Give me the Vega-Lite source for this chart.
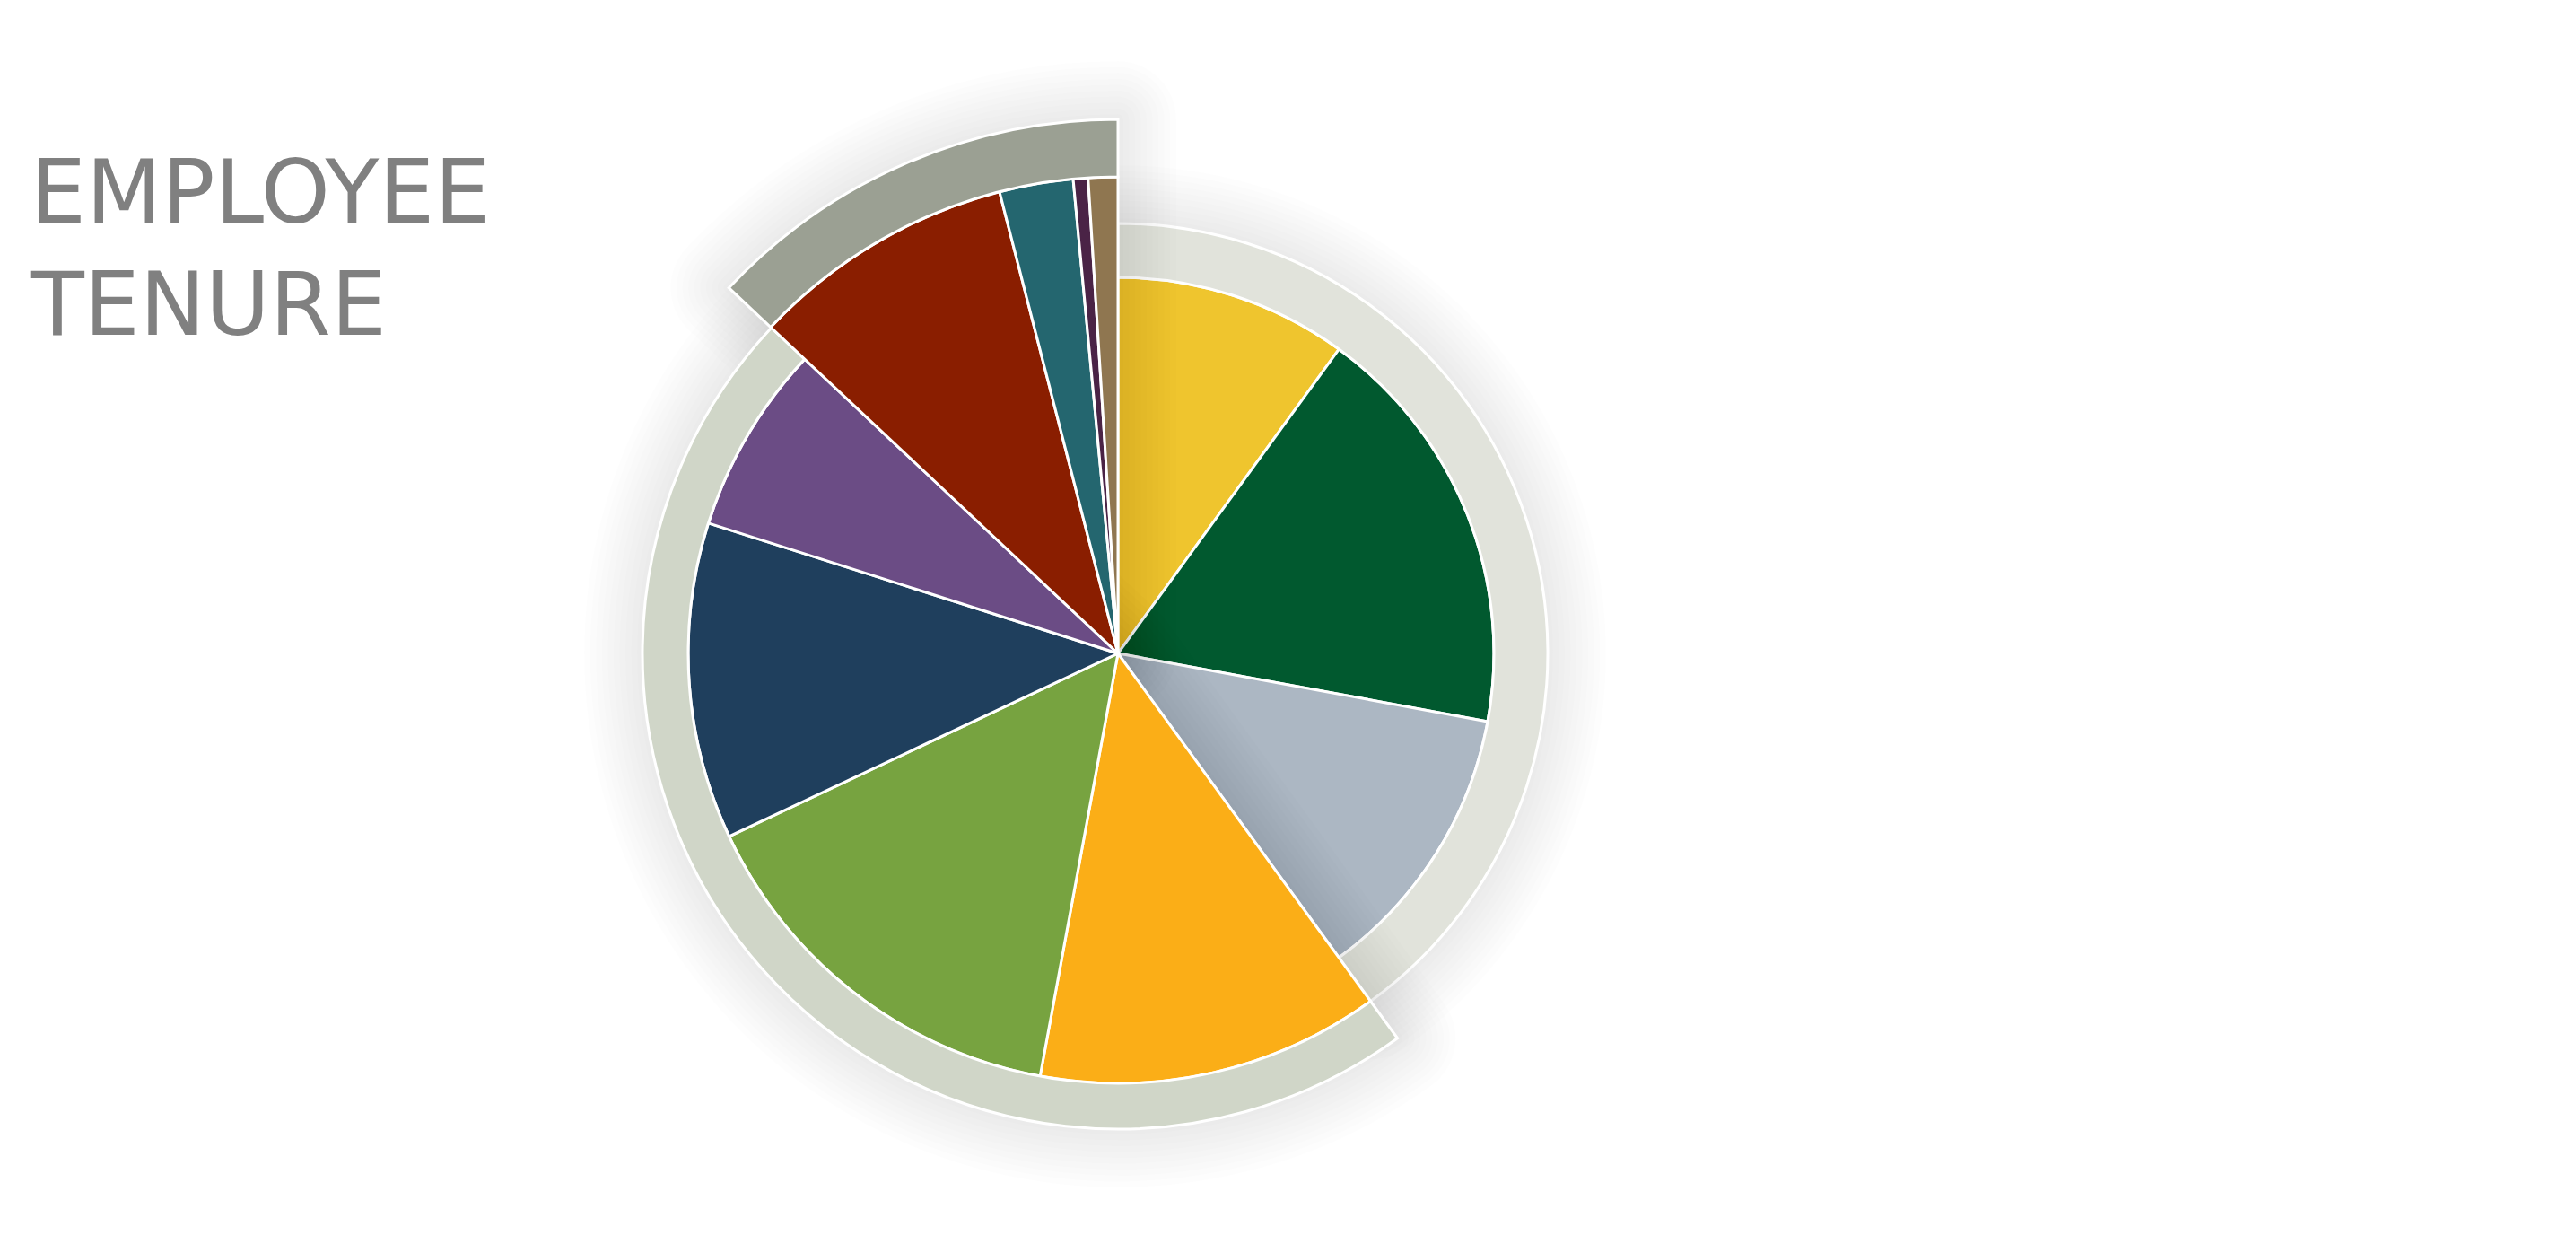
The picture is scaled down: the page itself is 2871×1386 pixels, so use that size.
{
  "$schema": "https://vega.github.io/schema/vega-lite/v6.json",
  "description": "Employee tenure: nested pie with three tenure groups.",
  "autosize": "none",
  "padding": {"left": 0, "top": 400, "right": 0, "bottom": 330},
  "width": 2492,
  "height": 656,
  "background": "white",
  "title": {
    "text": ["EMPLOYEE", "TENURE"],
    "orient": "top",
    "anchor": "start",
    "frame": "group",
    "font": "DejaVu Sans",
    "fontSize": 98,
    "fontWeight": "normal",
    "color": "#808080",
    "lineHeight": 125,
    "baseline": "alphabetic",
    "offset": 0,
    "dx": 34,
    "dy": 403
  },
  "data": {
    "values": [
      {"segment": "Segment 1", "group": "A", "share": 10.0},
      {"segment": "Segment 2", "group": "A", "share": 17.9},
      {"segment": "Segment 3", "group": "A", "share": 12.1},
      {"segment": "Segment 4", "group": "B", "share": 12.9},
      {"segment": "Segment 5", "group": "B", "share": 15.1},
      {"segment": "Segment 6", "group": "B", "share": 11.9},
      {"segment": "Segment 7", "group": "B", "share": 7.1},
      {"segment": "Segment 8", "group": "C", "share": 9.0},
      {"segment": "Segment 9", "group": "C", "share": 2.5},
      {"segment": "Segment 10", "group": "C", "share": 0.5},
      {"segment": "Segment 11", "group": "C", "share": 1.0}
    ]
  },
  "transform": [{"stack": "share", "groupby": [], "as": ["t0", "t1"]}],
  "layer": [
    {
      "transform": [
        {"filter": "datum.group === 'A'"},
        {"aggregate": [{"op": "min", "field": "t0", "as": "g0"}, {"op": "max", "field": "t1", "as": "g1"}], "groupby": ["group"]},
        {"fold": ["s1", "s2", "s3", "s4", "s5", "s6", "s7", "s8", "s9", "s10"], "as": ["step", "unused"]}
      ],
      "mark": {"type": "arc", "radius": 479, "filled": false, "color": "#2a2a3a", "strokeOpacity": 0.009, "strokeJoin": "round"},
      "encoding": {
        "theta": {"field": "g0", "type": "quantitative", "scale": {"domain": [0, 100]}},
        "theta2": {"field": "g1"},
        "strokeWidth": {"field": "step", "type": "ordinal", "sort": null, "scale": {"type": "point", "range": [12, 130], "padding": 0}, "legend": null}
      }
    },
    {
      "transform": [{"filter": "datum.group === 'A'"}],
      "mark": {"type": "arc", "radius": 419, "stroke": "#fff", "strokeWidth": 3},
      "encoding": {
        "theta": {"field": "t0", "type": "quantitative"},
        "theta2": {"field": "t1"},
        "color": {"field": "segment", "type": "nominal", "legend": null,
          "scale": {
            "domain": ["Segment 1", "Segment 2", "Segment 3", "Segment 4", "Segment 5", "Segment 6", "Segment 7", "Segment 8", "Segment 9", "Segment 10", "Segment 11"],
            "range": ["#EFC52E", "#01592F", "#ACB7C3", "#FBAE17", "#77A340", "#1F3F5D", "#6B4C85", "#8A1E00", "#24666F", "#4A2346", "#8F7650"]
          }
        }
      }
    },
    {
      "transform": [
        {"filter": "datum.group === 'A'"},
        {"aggregate": [{"op": "min", "field": "t0", "as": "g0"}, {"op": "max", "field": "t1", "as": "g1"}], "groupby": ["group"]}
      ],
      "mark": {"type": "arc", "radius": 479, "radius2": 419, "fill": "#E1E3DB", "stroke": "#fff", "strokeWidth": 3},
      "encoding": {
        "theta": {"field": "g0", "type": "quantitative"},
        "theta2": {"field": "g1"}
      }
    },
    {
      "transform": [
        {"filter": "datum.group === 'C'"},
        {"aggregate": [{"op": "min", "field": "t0", "as": "g0"}, {"op": "max", "field": "t1", "as": "g1"}], "groupby": ["group"]},
        {"fold": ["s1", "s2", "s3", "s4", "s5", "s6", "s7", "s8", "s9", "s10"], "as": ["step", "unused"]}
      ],
      "mark": {"type": "arc", "radius": 595, "filled": false, "color": "#2a2a3a", "strokeOpacity": 0.009, "strokeJoin": "round"},
      "encoding": {
        "theta": {"field": "g0", "type": "quantitative"},
        "theta2": {"field": "g1"},
        "strokeWidth": {"field": "step", "type": "ordinal", "sort": null, "scale": {"type": "point", "range": [12, 130], "padding": 0}, "legend": null}
      }
    },
    {
      "transform": [
        {"filter": "datum.group === 'B'"},
        {"aggregate": [{"op": "min", "field": "t0", "as": "g0"}, {"op": "max", "field": "t1", "as": "g1"}], "groupby": ["group"]},
        {"fold": ["s1", "s2", "s3", "s4", "s5", "s6", "s7", "s8", "s9", "s10"], "as": ["step", "unused"]}
      ],
      "mark": {"type": "arc", "radius": 530, "filled": false, "color": "#2a2a3a", "strokeOpacity": 0.009, "strokeJoin": "round"},
      "encoding": {
        "theta": {"field": "g0", "type": "quantitative"},
        "theta2": {"field": "g1"},
        "strokeWidth": {"field": "step", "type": "ordinal", "sort": null, "scale": {"type": "point", "range": [12, 130], "padding": 0}, "legend": null}
      }
    },
    {
      "transform": [{"filter": "datum.group === 'B'"}],
      "mark": {"type": "arc", "radius": 479, "stroke": "#fff", "strokeWidth": 3},
      "encoding": {
        "theta": {"field": "t0", "type": "quantitative"},
        "theta2": {"field": "t1"},
        "color": {"field": "segment", "type": "nominal", "legend": null}
      }
    },
    {
      "transform": [
        {"filter": "datum.group === 'B'"},
        {"aggregate": [{"op": "min", "field": "t0", "as": "g0"}, {"op": "max", "field": "t1", "as": "g1"}], "groupby": ["group"]}
      ],
      "mark": {"type": "arc", "radius": 530, "radius2": 479, "fill": "#D0D6C8", "stroke": "#fff", "strokeWidth": 3},
      "encoding": {
        "theta": {"field": "g0", "type": "quantitative"},
        "theta2": {"field": "g1"}
      }
    },
    {
      "transform": [{"filter": "datum.group === 'C'"}],
      "mark": {"type": "arc", "radius": 531, "stroke": "#fff", "strokeWidth": 3},
      "encoding": {
        "theta": {"field": "t0", "type": "quantitative"},
        "theta2": {"field": "t1"},
        "color": {"field": "segment", "type": "nominal", "legend": null}
      }
    },
    {
      "transform": [
        {"filter": "datum.group === 'C'"},
        {"aggregate": [{"op": "min", "field": "t0", "as": "g0"}, {"op": "max", "field": "t1", "as": "g1"}], "groupby": ["group"]}
      ],
      "mark": {"type": "arc", "radius": 595, "radius2": 531, "fill": "#9BA093", "stroke": "#fff", "strokeWidth": 3},
      "encoding": {
        "theta": {"field": "g0", "type": "quantitative"},
        "theta2": {"field": "g1"}
      }
    }
  ],
  "config": {"view": {"stroke": null}}
}
